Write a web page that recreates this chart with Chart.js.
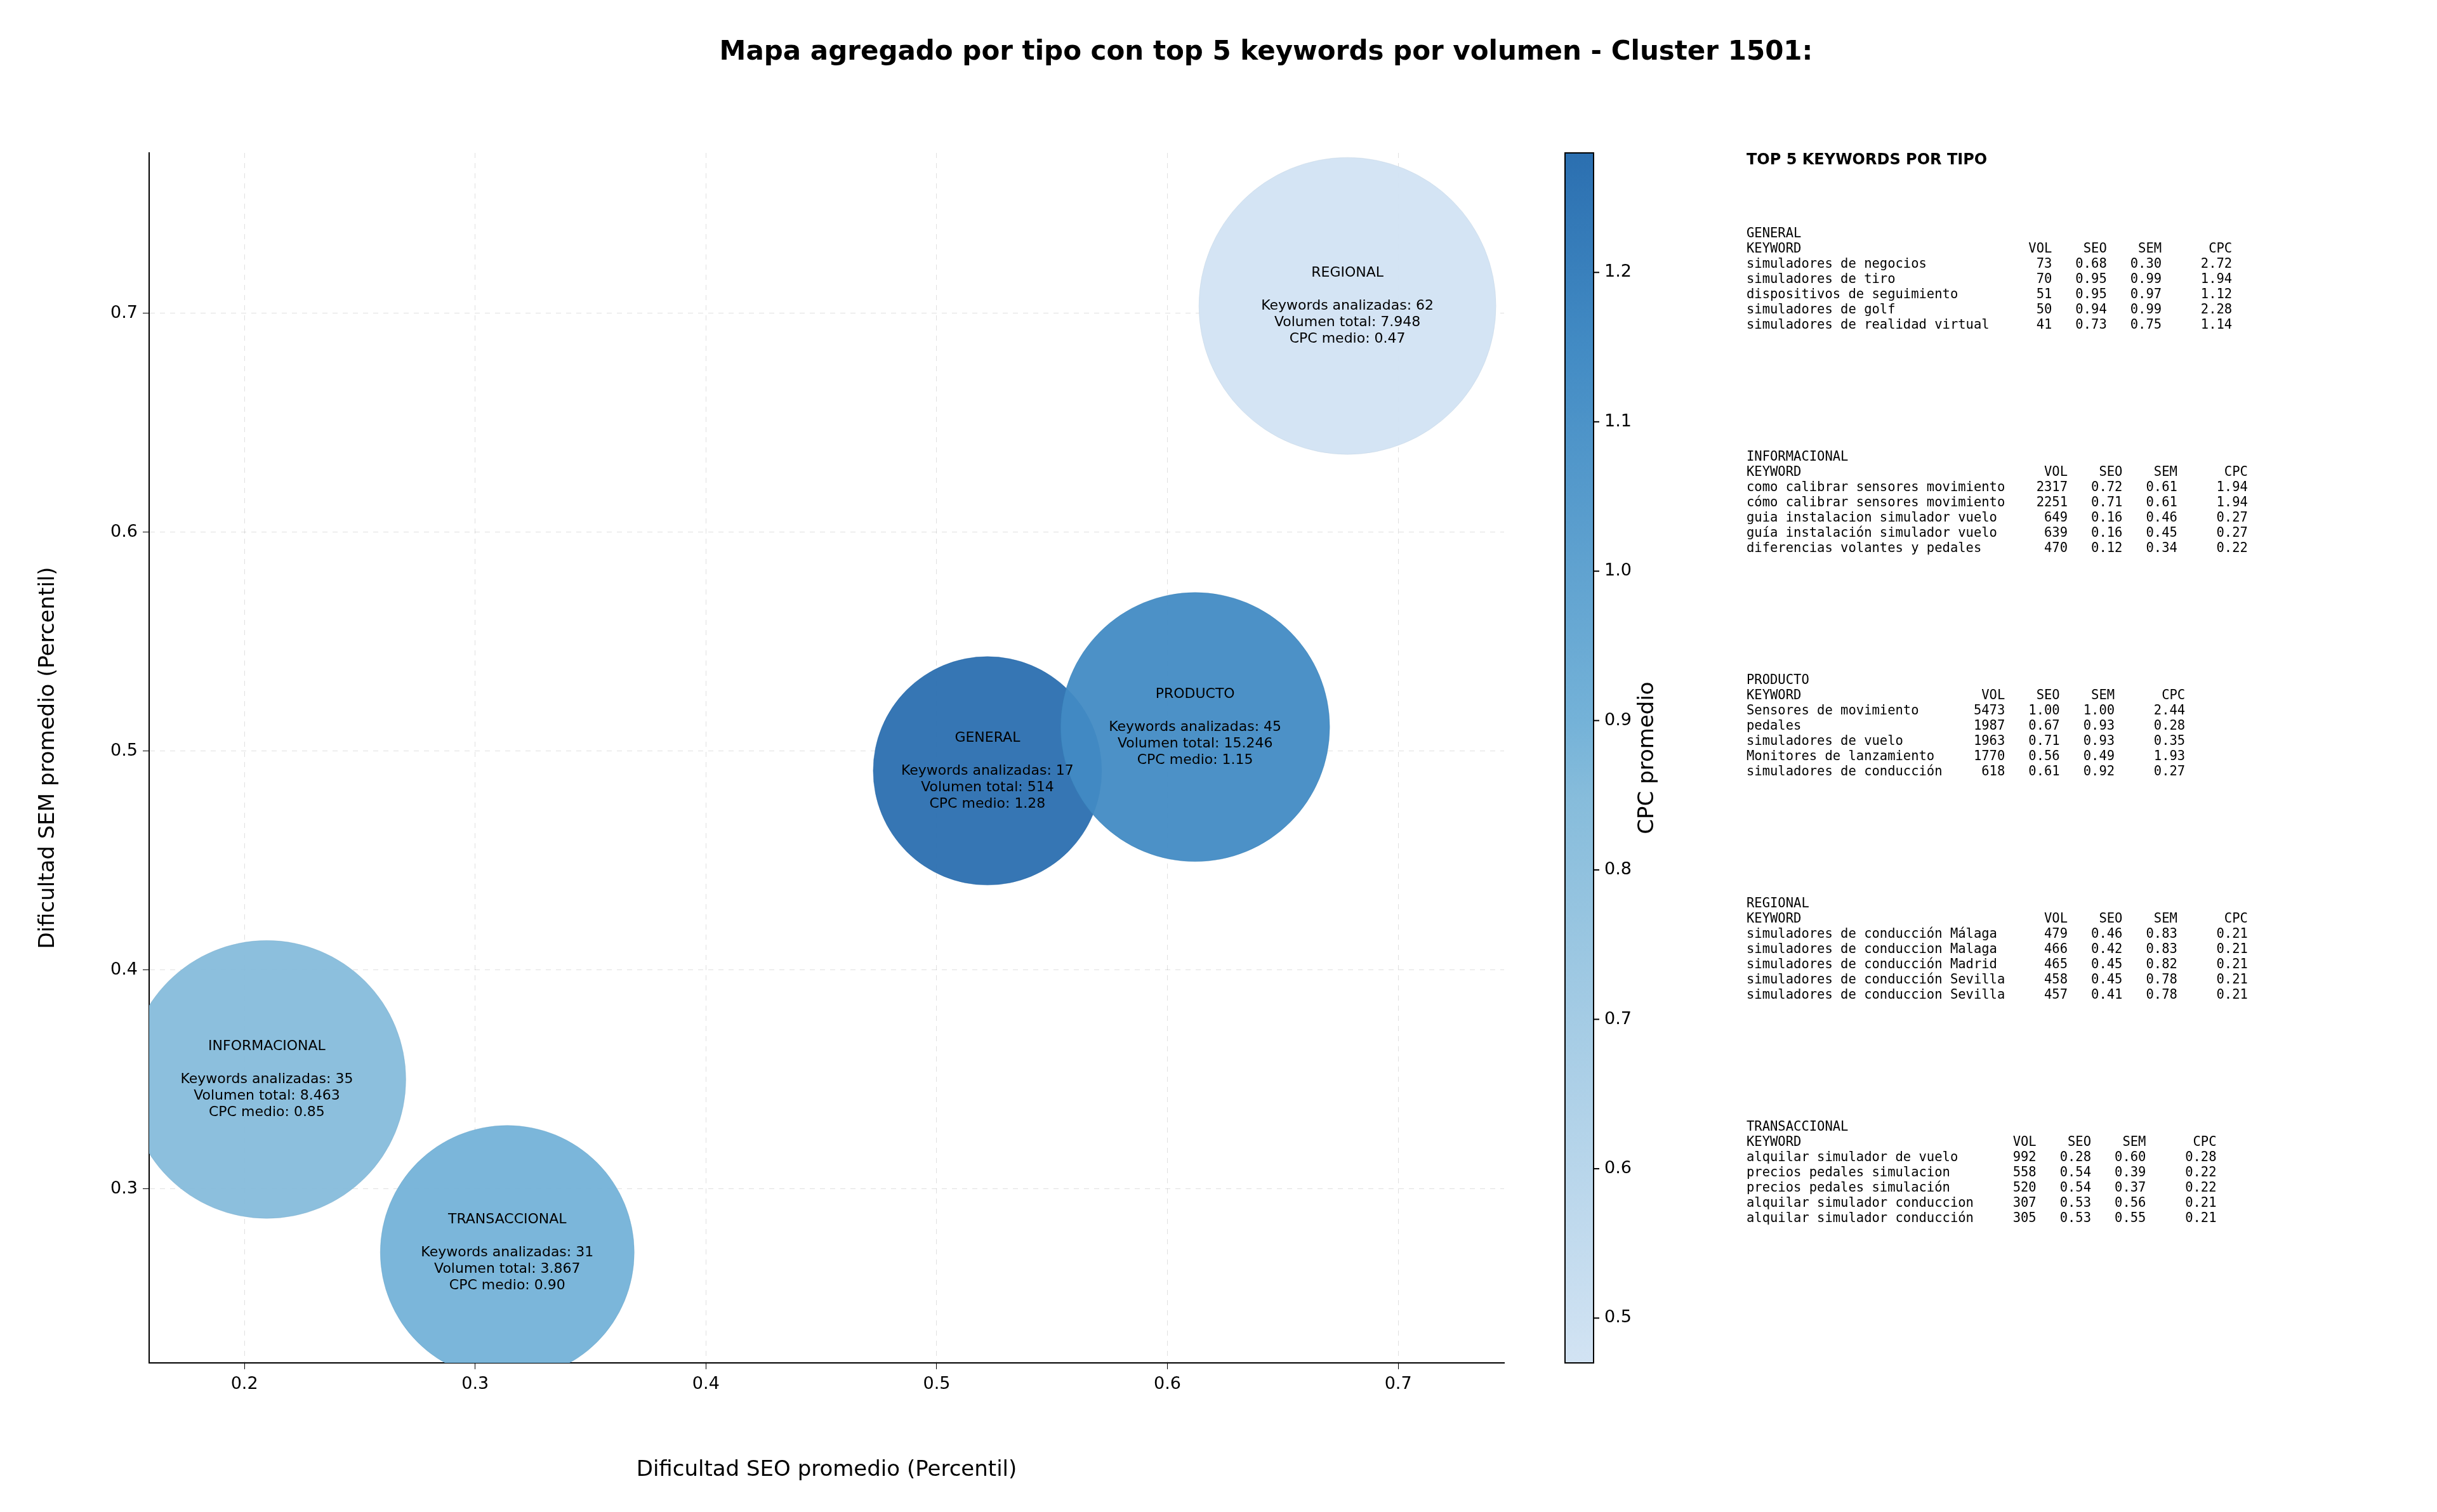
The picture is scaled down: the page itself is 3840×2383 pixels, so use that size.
<!DOCTYPE html>
<html><head><meta charset="utf-8">
<script src="https://cdn.jsdelivr.net/npm/chart.js@4"></script>
<style>html,body{margin:0;padding:0;background:#fff}canvas{display:block}</style>
</head><body>
<canvas id="c" width="3840" height="2383"></canvas>
<script>
const tipos = ['GENERAL','INFORMACIONAL','PRODUCTO','REGIONAL','TRANSACCIONAL'];
const seoProm = [0.522, 0.2097, 0.612, 0.678, 0.3139];
const semProm = [0.491, 0.350, 0.511, 0.7034, 0.271];
const kwAnalizadas = [17, 35, 45, 62, 31];
const volTotal = ['514','8.463','15.246','7.948','3.867'];
const cpcMedio = [1.28, 0.85, 1.15, 0.47, 0.90];
const bubbleRadius = [180, 219, 212, 234, 200];
const xTicks = [0.2,0.3,0.4,0.5,0.6,0.7];
const yTicks = [0.3,0.4,0.5,0.6,0.7];
const cbTicks = [0.5,0.6,0.7,0.8,0.9,1.0,1.1,1.2];

const topGeneral = [['simuladores de negocios',73,0.68,0.30,2.72],['simuladores de tiro',70,0.95,0.99,1.94],['dispositivos de seguimiento',51,0.95,0.97,1.12],['simuladores de golf',50,0.94,0.99,2.28],['simuladores de realidad virtual',41,0.73,0.75,1.14]];
const topInformacional = [['como calibrar sensores movimiento',2317,0.72,0.61,1.94],['cómo calibrar sensores movimiento',2251,0.71,0.61,1.94],['guia instalacion simulador vuelo',649,0.16,0.46,0.27],['guía instalación simulador vuelo',639,0.16,0.45,0.27],['diferencias volantes y pedales',470,0.12,0.34,0.22]];
const topProducto = [['Sensores de movimiento',5473,1.00,1.00,2.44],['pedales',1987,0.67,0.93,0.28],['simuladores de vuelo',1963,0.71,0.93,0.35],['Monitores de lanzamiento',1770,0.56,0.49,1.93],['simuladores de conducción',618,0.61,0.92,0.27]];
const topRegional = [['simuladores de conducción Málaga',479,0.46,0.83,0.21],['simuladores de conduccion Malaga',466,0.42,0.83,0.21],['simuladores de conducción Madrid',465,0.45,0.82,0.21],['simuladores de conducción Sevilla',458,0.45,0.78,0.21],['simuladores de conduccion Sevilla',457,0.41,0.78,0.21]];
const topTransaccional = [['alquilar simulador de vuelo',992,0.28,0.60,0.28],['precios pedales simulacion',558,0.54,0.39,0.22],['precios pedales simulación',520,0.54,0.37,0.22],['alquilar simulador conduccion',307,0.53,0.56,0.21],['alquilar simulador conducción',305,0.53,0.55,0.21]];
const tablas = [['GENERAL',topGeneral],['INFORMACIONAL',topInformacional],['PRODUCTO',topProducto],['REGIONAL',topRegional],['TRANSACCIONAL',topTransaccional]];
const titulo = 'Mapa agregado por tipo con top 5 keywords por volumen - Cluster 1501:';

const cmin = 0.47, cmax = 1.28;
const stops = [[0.47,[210,227,243]],[0.85,[134,188,219]],[0.90,[116,178,216]],[1.15,[66,139,196]],[1.28,[43,111,176]]];
function cmap(v){
  for(let i=0;i<stops.length-1;i++){
    const [a,ca]=stops[i],[b,cb]=stops[i+1];
    if(v<=b){const t=Math.max(0,(v-a)/(b-a));return ca.map((c,k)=>Math.round(c+(cb[k]-c)*t));}
  }
  return stops[stops.length-1][1];
}
const MONO = '"DejaVu Sans Mono", monospace';
const SANS = '"DejaVu Sans", sans-serif';

const overlay = {
  id:'overlay',
  afterDatasetsDraw(chart){
    const ctx=chart.ctx, xs=chart.scales.x, ys=chart.scales.y;
    ctx.save();
    ctx.fillStyle='#000'; ctx.textAlign='center'; ctx.textBaseline='middle';
    ctx.font='22px '+SANS;
    tipos.forEach((t,i)=>{
      const cx=xs.getPixelForValue(seoProm[i]), cy=ys.getPixelForValue(semProm[i]);
      const lines=[t,'','Keywords analizadas: '+kwAnalizadas[i],'Volumen total: '+volTotal[i],'CPC medio: '+cpcMedio[i].toFixed(2)];
      lines.forEach((l,k)=>{ if(l) ctx.fillText(l,cx,cy+(k-2)*26); });
    });
    ctx.restore();
  },
  afterDraw(chart){
    const ctx=chart.ctx, ca=chart.chartArea;
    ctx.save();
    ctx.fillStyle='#000'; ctx.textAlign='center'; ctx.textBaseline='middle';
    ctx.font='bold 42px '+SANS; ctx.fillText(titulo,1995,83);
    ctx.font='34px '+SANS; ctx.fillText('Dificultad SEO promedio (Percentil)',(ca.left+ca.right)/2,2317);
    ctx.save(); ctx.translate(76,(ca.top+ca.bottom)/2); ctx.rotate(-Math.PI/2);
    ctx.fillText('Dificultad SEM promedio (Percentil)',0,0); ctx.restore();
    // colorbar
    const bx=2466,bw=45,top=ca.top,bot=ca.bottom;
    const g=ctx.createLinearGradient(0,bot,0,top);
    stops.forEach(([v,c])=>g.addColorStop((v-cmin)/(cmax-cmin),`rgb(${c.join(',')})`));
    ctx.fillStyle=g; ctx.fillRect(bx,top,bw,bot-top);
    ctx.strokeStyle='#000'; ctx.lineWidth=2; ctx.strokeRect(bx,top,bw,bot-top);
    ctx.fillStyle='#000'; ctx.font='27px '+SANS; ctx.textAlign='left'; ctx.textBaseline='middle';
    cbTicks.forEach(v=>{
      const y=bot-(v-cmin)/(cmax-cmin)*(bot-top);
      ctx.beginPath(); ctx.moveTo(bx+bw,y); ctx.lineTo(bx+bw+9,y); ctx.stroke();
      ctx.fillText(v.toFixed(1),bx+bw+17,y);
    });
    ctx.save(); ctx.translate(2596,(top+bot)/2); ctx.rotate(-Math.PI/2);
    ctx.textAlign='center'; ctx.font='34px '+SANS; ctx.fillText('CPC promedio',0,0); ctx.restore();
    // text panel
    const x0=2752; ctx.textAlign='left'; ctx.textBaseline='middle';
    ctx.font='bold 24px '+SANS; ctx.fillText('TOP 5 KEYWORDS POR TIPO',x0,253);
    ctx.font='20.5px '+MONO;
    tablas.forEach(([name,rows],s)=>{
      const L=Math.max(...rows.map(r=>r[0].length))+2;
      const lines=[name,'KEYWORD'.padEnd(L)+'VOL'.padStart(6)+'SEO'.padStart(7)+'SEM'.padStart(7)+'CPC'.padStart(9)];
      rows.forEach(r=>lines.push(r[0].padEnd(L)+String(r[1]).padStart(6)+r[2].toFixed(2).padStart(7)+r[3].toFixed(2).padStart(7)+r[4].toFixed(2).padStart(9)));
      const y0=369+s*352;
      lines.forEach((l,k)=>ctx.fillText(l,x0,y0+k*24));
    });
    ctx.restore();
  }
};

new Chart(document.getElementById('c'),{
  type:'bubble',
  data:{datasets:[{
    data:tipos.map((t,i)=>({x:seoProm[i],y:semProm[i],r:bubbleRadius[i]})),
    backgroundColor:cpcMedio.map(v=>`rgba(${cmap(v).join(',')},0.95)`),
    borderColor:cpcMedio.map(v=>`rgba(${cmap(v).map(c=>Math.max(0,c-20)).join(',')},0.4)`),
    borderWidth:1, clip:0
  }]},
  options:{
    responsive:false, animation:false, devicePixelRatio:1,
    layout:{padding:{left:0,right:1470,top:241,bottom:0}},
    plugins:{legend:{display:false}, tooltip:{enabled:false}, title:{display:false}},
    scales:{
      x:{min:0.1587,max:0.7459,
        afterBuildTicks:a=>{a.ticks=xTicks.map(v=>({value:v}));},
        afterFit:s=>{s.height=138;},
        ticks:{color:'#000',font:{family:SANS,size:27},callback:v=>String(+v.toFixed(1)),padding:8},
        grid:{color:'rgba(0,0,0,0.12)',tickColor:'#000',tickLength:10},
        border:{color:'#000',width:2,dash:[8,8]}},
      y:{min:0.2205,max:0.7733,
        afterBuildTicks:a=>{a.ticks=yTicks.map(v=>({value:v}));},
        afterFit:s=>{s.width=165;},
        ticks:{color:'#000',font:{family:SANS,size:27},callback:v=>String(+v.toFixed(1)),padding:8},
        grid:{color:'rgba(0,0,0,0.12)',tickColor:'#000',tickLength:10},
        border:{color:'#000',width:2,dash:[8,8]}}
    }
  },
  plugins:[overlay]
});
</script>
</body></html>
